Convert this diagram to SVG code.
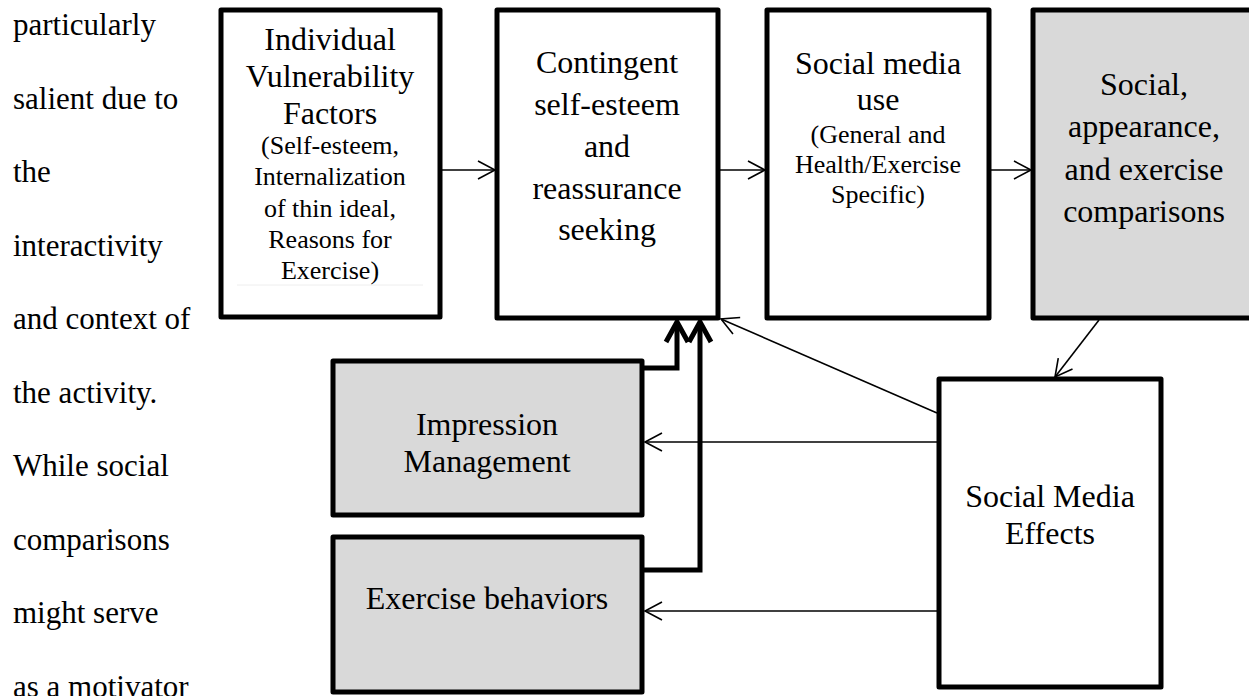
<svg xmlns="http://www.w3.org/2000/svg" width="1249" height="696" viewBox="0 0 1249 696">
<style>
.box{fill:#ffffff;stroke:#000;stroke-width:5;stroke-linejoin:round}
.grey{fill:#d9d9d9}
text{font-family:"Liberation Serif","Times New Roman",serif;fill:#000}
.t{font-size:32px;text-anchor:middle}
.s{font-size:26px;text-anchor:middle}
.body{font-size:31px}
.thin{fill:none;stroke:#000;stroke-width:1.6;marker-end:url(#open)}
.thick{fill:none;stroke:#000;stroke-width:5;stroke-linejoin:miter;marker-end:url(#bold)}
</style>
<defs>
<marker id="open" viewBox="-22 -13 24 26" refX="0" refY="0" markerWidth="24" markerHeight="26" markerUnits="userSpaceOnUse" orient="auto" overflow="visible">
<path d="M -17 -9 L 0 0 L -17 9" fill="none" stroke="#000" stroke-width="1.6"/>
</marker>
<marker id="bold" viewBox="-26 -16 30 32" refX="0" refY="0" markerWidth="30" markerHeight="32" markerUnits="userSpaceOnUse" orient="auto" overflow="visible">
<path d="M -20 -11 L 0 0 L -20 11" fill="none" stroke="#000" stroke-width="5" stroke-linejoin="miter"/>
</marker>
</defs>
<rect width="1249" height="696" fill="#fff"/>
<g id="bodytext" class="body">
<text x="13" y="35">particularly</text>
<text x="13" y="108.5">salient due to</text>
<text x="13" y="182">the</text>
<text x="13" y="255.5">interactivity</text>
<text x="13" y="329">and context of</text>
<text x="13" y="402.5">the activity.</text>
<text x="13" y="476">While social</text>
<text x="13" y="549.5">comparisons</text>
<text x="13" y="623">might serve</text>
<text x="13" y="696.5">as a motivator</text>
</g>
<g id="connectors">
<line class="thin" x1="442" y1="170" x2="495" y2="170"/>
<line class="thin" x1="720" y1="170" x2="765" y2="170"/>
<line class="thin" x1="991" y1="170" x2="1031" y2="170"/>
<line class="thin" x1="1099" y1="320" x2="1055" y2="377"/>
<line class="thin" x1="937" y1="413" x2="721" y2="319"/>
<line class="thin" x1="937" y1="442" x2="645" y2="442"/>
<line class="thin" x1="937" y1="611" x2="645" y2="611"/>
<path class="thick" d="M 644 368 L 677 368 L 677 322"/>
<path class="thick" d="M 644 570 L 700 570 L 700 322"/>
</g>
<g id="n1">
<rect class="box" x="221" y="10" width="219" height="307"/>
<line x1="237" y1="285" x2="423" y2="285" stroke="#eeeeee" stroke-width="1"/>
<text class="t" x="330" y="50">Individual</text>
<text class="t" x="330" y="87">Vulnerability</text>
<text class="t" x="330" y="124">Factors</text>
<text class="s" x="330" y="154">(Self-esteem,</text>
<text class="s" x="330" y="185">Internalization</text>
<text class="s" x="330" y="217">of thin ideal,</text>
<text class="s" x="330" y="248">Reasons for</text>
<text class="s" x="330" y="279">Exercise)</text>
</g>
<g id="n2">
<rect class="box" x="497" y="10" width="221" height="308"/>
<text class="t" x="607" y="73">Contingent</text>
<text class="t" x="607" y="115">self-esteem</text>
<text class="t" x="607" y="157">and</text>
<text class="t" x="607" y="199">reassurance</text>
<text class="t" x="607" y="240">seeking</text>
</g>
<g id="n3">
<rect class="box" x="767" y="10" width="222" height="308"/>
<text class="t" x="878" y="74">Social media</text>
<text class="t" x="878" y="110">use</text>
<text class="s" x="878" y="143">(General and</text>
<text class="s" x="878" y="173">Health/Exercise</text>
<text class="s" x="878" y="203">Specific)</text>
</g>
<g id="n4">
<rect class="box grey" x="1033" y="10" width="222" height="308"/>
<text class="t" x="1144" y="95">Social,</text>
<text class="t" x="1144" y="137">appearance,</text>
<text class="t" x="1144" y="180">and exercise</text>
<text class="t" x="1144" y="222">comparisons</text>
</g>
<g id="n5">
<rect class="box grey" x="333" y="361" width="309" height="154"/>
<text class="t" x="487" y="435">Impression</text>
<text class="t" x="487" y="472">Management</text>
</g>
<g id="n6">
<rect class="box grey" x="333" y="537" width="309" height="155"/>
<text class="t" x="487" y="609">Exercise behaviors</text>
</g>
<g id="n7">
<rect class="box" x="939" y="379" width="222" height="308"/>
<text class="t" x="1050" y="507">Social Media</text>
<text class="t" x="1050" y="544">Effects</text>
</g>
</svg>
